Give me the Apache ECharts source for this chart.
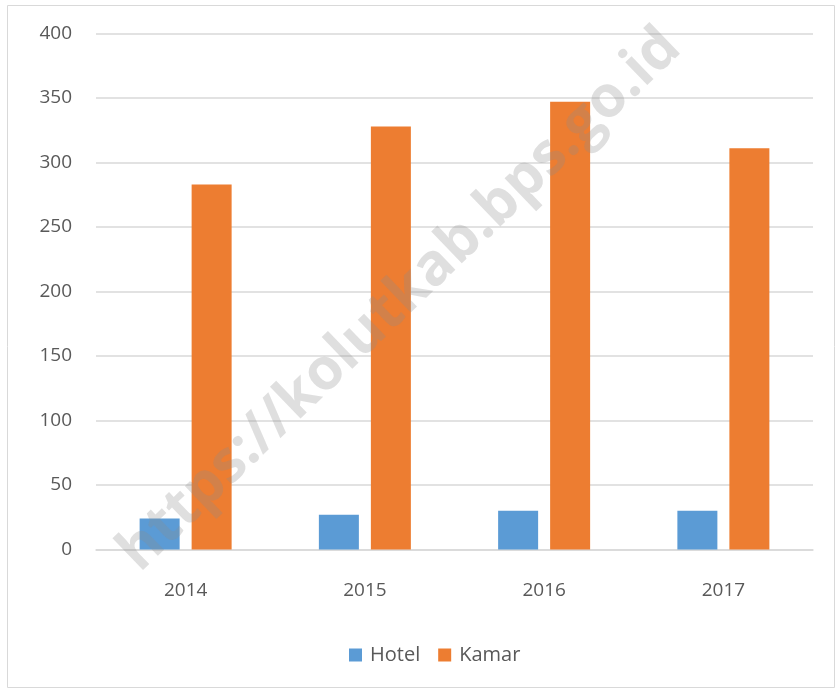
<!DOCTYPE html>
<html>
<head>
<meta charset="utf-8">
<script src="https://cdn.jsdelivr.net/npm/echarts@6/dist/echarts.min.js"></script>
<style>
  html, body { margin: 0; padding: 0; background: #fff; }
  #main { width: 836px; height: 690px; }
</style>
</head>
<body>
<div id="main"></div>
<script>
// data
var years = ['2014', '2015', '2016', '2017'];
var hotel = [24, 27, 30, 30];
var kamar = [283, 328, 347, 311];

var myChart = echarts.init(document.getElementById('main'));
var txt = '#595959';
var font = 'Open Sans';

var option = {
    animation: false,
    color: ['#5b9bd5', '#ed7d31'],
    graphic: [
        {
            type: 'rect',
            shape: { x: 7.5, y: 5.5, width: 827, height: 682 },
            style: { fill: 'none', stroke: '#d9d9d9', lineWidth: 1 }
        },
        {
            type: 'text',
            x: 400, y: 300,
            rotation: Math.PI / 4.1,
            z: 100,
            style: {
                text: 'https://kolutkab.bps.go.id',
                font: 'bold 58px "Open Sans"',
                fill: 'rgba(140,140,140,0.28)',
                align: 'center',
                verticalAlign: 'middle'
            }
        }
    ],
    grid: { left: 96, right: 23, top: 33.5, bottom: 140.5 },
    legend: {
        bottom: 20,
        left: 344,
        itemWidth: 13,
        itemHeight: 13,
        itemGap: 18,
        icon: 'rect',
        textStyle: { color: txt, fontSize: 20, fontFamily: font, padding: [0, 0, 0, 3] },
        data: ['Hotel', 'Kamar']
    },
    xAxis: {
        type: 'category',
        data: years,
        axisLine: { lineStyle: { color: '#d9d9d9', width: 1.5 } },
        axisTick: { show: false },
        axisLabel: { color: txt, fontSize: 19, fontFamily: font, margin: 32 }
    },
    yAxis: {
        type: 'value',
        min: 0, max: 400, interval: 50,
        axisLine: { show: false },
        axisTick: { show: false },
        splitLine: { lineStyle: { color: '#d9d9d9', width: 1.5 } },
        axisLabel: { color: txt, fontSize: 19, fontFamily: font, margin: 24 }
    },
    series: [
        { name: 'Hotel', type: 'bar', data: hotel, barWidth: 40, barGap: '30%' },
        { name: 'Kamar', type: 'bar', data: kamar, barWidth: 40, barGap: '30%' }
    ]
};

myChart.setOption(option);
</script>
</body>
</html>
